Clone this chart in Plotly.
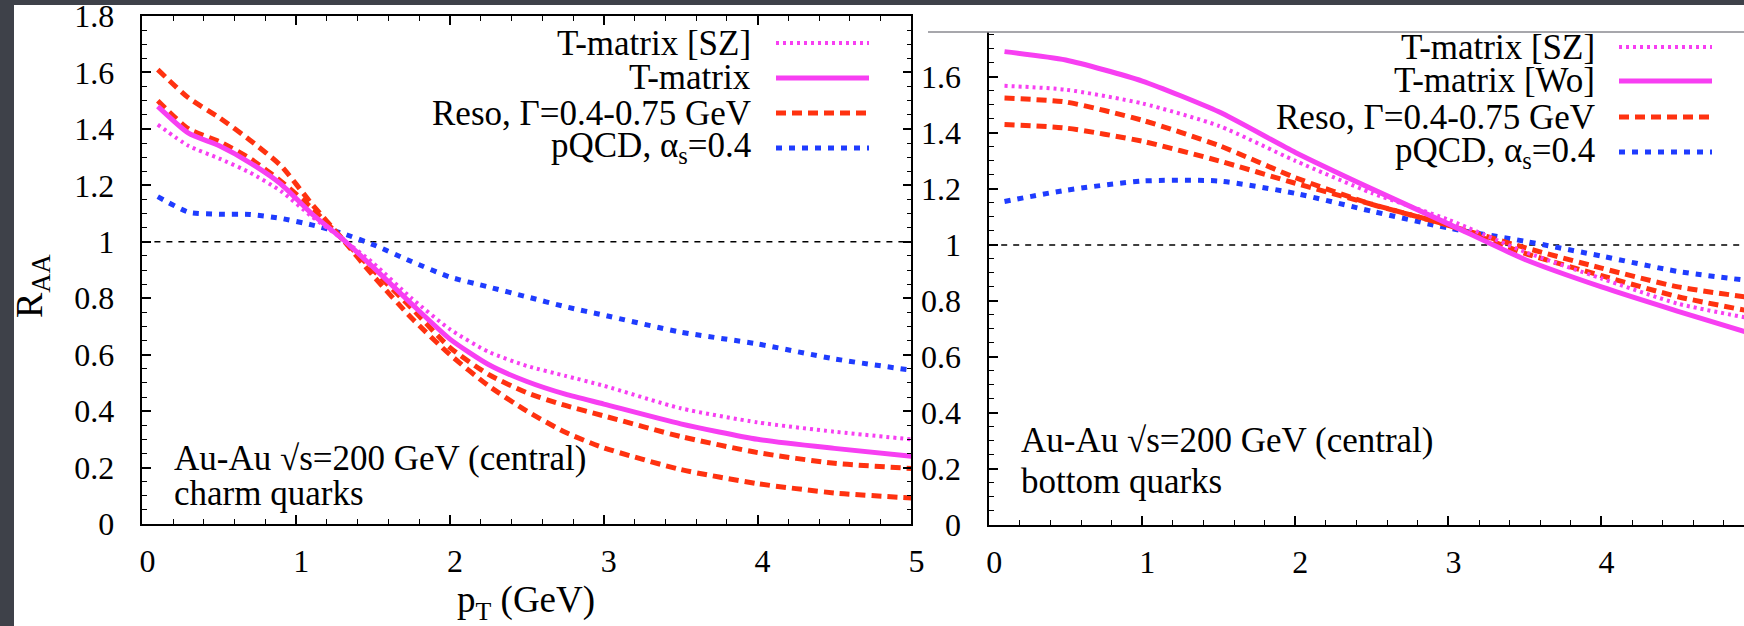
import plotly.graph_objects as go

W, H = 1744, 626

# ---------------- data: charm quarks (left panel) ----------------
x_c = [0.1, 0.3, 0.5, 0.7, 0.9, 1.1, 1.3, 1.5, 1.75, 2.0, 2.25, 2.5, 2.75, 3.0, 3.5, 4.0, 4.5, 5.0]
c_tm_sz = [1.415, 1.34, 1.295, 1.245, 1.18, 1.09, 1.01, 0.925, 0.80, 0.69, 0.61, 0.56, 0.525, 0.49, 0.41, 0.36, 0.327, 0.30]
c_tm = [1.48, 1.385, 1.34, 1.28, 1.205, 1.10, 1.01, 0.91, 0.78, 0.655, 0.565, 0.505, 0.46, 0.425, 0.355, 0.30, 0.268, 0.24]
c_reso_a = [1.61, 1.51, 1.44, 1.36, 1.27, 1.135, 1.01, 0.88, 0.73, 0.60, 0.49, 0.40, 0.325, 0.27, 0.193, 0.143, 0.11, 0.092]
c_reso_b = [1.50, 1.40, 1.355, 1.295, 1.215, 1.12, 1.01, 0.90, 0.765, 0.625, 0.53, 0.465, 0.42, 0.383, 0.31, 0.253, 0.215, 0.197]
c_pqcd = [1.16, 1.105, 1.098, 1.097, 1.083, 1.06, 1.03, 0.99, 0.93, 0.875, 0.84, 0.805, 0.77, 0.74, 0.68, 0.638, 0.585, 0.545]

# ---------------- data: bottom quarks (right panel) ----------------
x_b = [0.1, 0.5, 1.0, 1.5, 2.0, 2.5, 3.0, 3.5, 4.0, 4.5, 5.0]
b_tm_sz = [1.568, 1.554, 1.505, 1.425, 1.30, 1.185, 1.09, 0.975, 0.88, 0.79, 0.735]
b_tm_wo = [1.69, 1.66, 1.585, 1.475, 1.33, 1.20, 1.075, 0.948, 0.85, 0.763, 0.68]
b_reso_a = [1.524, 1.51, 1.445, 1.355, 1.24, 1.145, 1.07, 0.97, 0.89, 0.815, 0.76]
b_reso_b = [1.43, 1.417, 1.37, 1.30, 1.22, 1.145, 1.07, 0.99, 0.917, 0.85, 0.81]
b_pqcd = [1.155, 1.195, 1.228, 1.228, 1.184, 1.12, 1.06, 1.013, 0.96, 0.905, 0.87]

ref_x = [0, 5]
ref_y = [1, 1]

legend_left = ["T-matrix [SZ]", "T-matrix", "Reso, Γ=0.4-0.75 GeV", "pQCD, α<sub>s</sub>=0.4"]
legend_right = ["T-matrix [SZ]", "T-matrix [Wo]", "Reso, Γ=0.4-0.75 GeV", "pQCD, α<sub>s</sub>=0.4"]
note_left = ["Au-Au √s=200 GeV (central)", "charm quarks"]
note_right = ["Au-Au √s=200 GeV (central)", "bottom quarks"]

# ---------------- styles ----------------
MAG = "#f73ff2"
RED = "#ff3210"
BLUE = "#1f3cff"
FONT = "Liberation Serif"
sty_sz = dict(color=MAG, width=4, dash="3px,4px")
sty_tm = dict(color=MAG, width=5)
sty_reso = dict(color=RED, width=5, dash="10px,6px")
sty_pqcd = dict(color=BLUE, width=5, dash="6px,7px")
styles = [sty_sz, sty_tm, sty_reso, sty_pqcd]


def px(x):
    return x / W


def py(y):
    return 1 - y / H


fig = go.Figure()


def add(x, y, style, xa, ya):
    fig.add_trace(go.Scatter(x=x, y=y, mode="lines", line=dict(shape="spline", smoothing=0.6, **style),
                             xaxis=xa, yaxis=ya, hoverinfo="skip"))


# reference lines R_AA = 1
fig.add_trace(go.Scatter(x=ref_x, y=ref_y, mode="lines", line=dict(color="black", width=1.5, dash="6px,6px"),
                         xaxis="x", yaxis="y", hoverinfo="skip"))
fig.add_trace(go.Scatter(x=ref_x, y=ref_y, mode="lines", line=dict(color="black", width=1.5, dash="6px,6px"),
                         xaxis="x2", yaxis="y2", hoverinfo="skip"))

add(x_c, c_pqcd, sty_pqcd, "x", "y")
add(x_c, c_reso_a, sty_reso, "x", "y")
add(x_c, c_reso_b, sty_reso, "x", "y")
add(x_c, c_tm_sz, sty_sz, "x", "y")
add(x_c, c_tm, sty_tm, "x", "y")

add(x_b, b_pqcd, sty_pqcd, "x2", "y2")
add(x_b, b_reso_a, sty_reso, "x2", "y2")
add(x_b, b_reso_b, sty_reso, "x2", "y2")
add(x_b, b_tm_sz, sty_sz, "x2", "y2")
add(x_b, b_tm_wo, sty_tm, "x2", "y2")

axis_common = dict(
    ticks="inside", ticklen=9, tickwidth=1.5, tickcolor="black",
    showline=True, linecolor="black", linewidth=1.6,
    showgrid=False, zeroline=False, automargin=False,
    ticklabeloverflow="allow",
    tickfont=dict(family=FONT, size=32, color="black"),
)

shapes = [
    dict(type="rect", xref="paper", yref="paper", x0=px(14), x1=1, y0=0, y1=py(5),
         fillcolor="white", line=dict(width=0), layer="below"),
    dict(type="line", xref="paper", yref="paper", x0=px(928), x1=1, y0=py(32), y1=py(32),
         line=dict(color="#8a8a90", width=1.5)),
]

annotations = []
# legends (text left, line sample right)
for i, (lab, st) in enumerate(zip(legend_left, styles)):
    yy = [43, 78, 113, 148][i]
    annotations.append(dict(xref="paper", yref="paper", x=px(753), y=py(yy), text=lab, showarrow=False,
                            xanchor="right", yanchor="middle", font=dict(family=FONT, size=35, color="black")))
    shapes.append(dict(type="line", xref="paper", yref="paper", x0=px(776), x1=px(869), y0=py(yy), y1=py(yy),
                       line=st))
for i, (lab, st) in enumerate(zip(legend_right, styles)):
    yy = [47, 81, 117, 152][i]
    annotations.append(dict(xref="paper", yref="paper", x=px(1597), y=py(yy), text=lab, showarrow=False,
                            xanchor="right", yanchor="middle", font=dict(family=FONT, size=35, color="black")))
    shapes.append(dict(type="line", xref="paper", yref="paper", x0=px(1619), x1=px(1712), y0=py(yy), y1=py(yy),
                       line=st))

# notes
for t, yy in zip(note_left, [458, 493]):
    annotations.append(dict(xref="paper", yref="paper", x=px(172), y=py(yy), text=t, showarrow=False,
                            xanchor="left", yanchor="middle", font=dict(family=FONT, size=35, color="black")))
for t, yy in zip(note_right, [440, 481]):
    annotations.append(dict(xref="paper", yref="paper", x=px(1019), y=py(yy), text=t, showarrow=False,
                            xanchor="left", yanchor="middle", font=dict(family=FONT, size=35, color="black")))

# axis titles
annotations.append(dict(xref="paper", yref="paper", x=px(32), y=py(286), text="R<sub>AA</sub>", showarrow=False,
                        textangle=-90, xanchor="center", yanchor="middle",
                        font=dict(family=FONT, size=38, color="black")))
annotations.append(dict(xref="paper", yref="paper", x=px(526), y=py(602), text="p<sub>T</sub> (GeV)", showarrow=False,
                        xanchor="center", yanchor="middle", font=dict(family=FONT, size=37, color="black")))

fig.update_layout(
    width=W, height=H, autosize=False,
    margin=dict(l=0, r=0, t=0, b=0, pad=0, autoexpand=False),
    paper_bgcolor="#3e4149", plot_bgcolor="rgba(0,0,0,0)",
    showlegend=False,
    xaxis=dict(domain=[px(142.4), px(911.4)], range=[0, 5.0001], dtick=1, mirror="ticks", anchor="y",
               ticklabelstandoff=8, ticklabelshift=5,
               minor=dict(ticks="inside", ticklen=5, dtick=0.2, tickwidth=1.2, tickcolor="black", showgrid=False),
               **axis_common),
    yaxis=dict(domain=[py(524), py(16)], range=[0, 1.8001], dtick=0.2, mirror="ticks", anchor="x",
               ticklabelstandoff=20,
               minor=dict(ticks="inside", ticklen=5, dtick=0.05, tickwidth=1.2, tickcolor="black", showgrid=False),
               **axis_common),
    xaxis2=dict(domain=[px(989.2), 1], range=[0, 4.931], dtick=1, anchor="y2",
                ticklabelstandoff=8, ticklabelshift=5,
                minor=dict(ticks="inside", ticklen=5, dtick=0.2, tickwidth=1.2, tickcolor="black", showgrid=False),
                **axis_common),
    yaxis2=dict(domain=[py(525), py(32)], range=[0, 1.76], dtick=0.2, anchor="x2",
                ticklabelstandoff=20,
                minor=dict(ticks="inside", ticklen=5, dtick=0.05, tickwidth=1.2, tickcolor="black", showgrid=False),
                **axis_common),
    shapes=shapes,
    annotations=annotations,
)

fig.write_html("out.html")
